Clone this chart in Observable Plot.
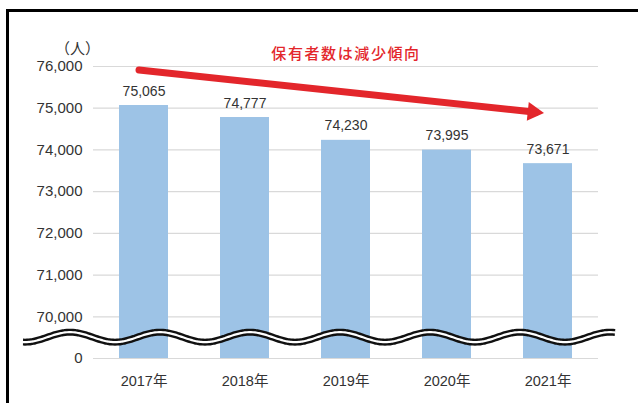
<!DOCTYPE html>
<html>
<head>
<meta charset="utf-8">
<script src="https://cdn.jsdelivr.net/npm/d3@7"></script>
<script src="https://cdn.jsdelivr.net/npm/@observablehq/plot@0.6"></script>
<style>
  html, body { margin: 0; padding: 0; background: #fff; }
  #wrap { position: relative; width: 638px; height: 403px; overflow: hidden; }
  #frame { position: absolute; left: 6px; top: 9px; width: 700px; height: 500px;
           border-top: 3px solid #000; border-left: 3px solid #000; pointer-events: none; }
  g[fill="#e3262b"] text { letter-spacing: 1.6px; }
</style>
</head>
<body>
<div id="wrap"><div id="frame"></div></div>
<script>
// ---- data ----
const years = ["2017年", "2018年", "2019年", "2020年", "2021年"];
const holders = [75065, 74777, 74230, 73995, 73671];
const tickValues = [69000, 70000, 71000, 72000, 73000, 74000, 75000, 76000];
const tickLabels = ["0", "70,000", "71,000", "72,000", "73,000", "74,000", "75,000", "76,000"];
const breakBase = 69000;           // where "0" sits below the axis break
const breakMid = 69500;            // centre of the wavy break symbol
const unitLabel = ["（人）"];
const trendTitle = ["保有者数は減少傾向"];
const trendFrom = {year: "2017年", value: 75904};
const trendTo = {year: "2021年", value: 74873};

const data = years.map((year, i) => ({year, value: holders[i]}));
const fmt = d3.format(",");
const RED = "#e3262b";

function wave(index, scales, values, dims) {
  const yc = scales.y(breakMid);
  const x0 = dims.marginLeft - 70, x1 = dims.width - dims.marginRight + 17;
  const pts = [];
  for (let x = x0; x <= x1; x += 2) pts.push([x, yc - 5 * Math.cos(2 * Math.PI * (x - 70) / 90)]);
  const line = d3.line().curve(d3.curveBasis);
  const g = d3.create("svg:g");
  g.append("path").attr("d", line(pts)).attr("fill", "none").attr("stroke", "#111").attr("stroke-width", 7);
  g.append("path").attr("d", line(pts)).attr("fill", "none").attr("stroke", "#fff").attr("stroke-width", 2.2);
  return g.node();
}

const chart = Plot.plot({
  width: 638,
  height: 403,
  marginLeft: 93,
  marginRight: 40,
  marginTop: 66,
  marginBottom: 45,
  style: {
    fontFamily: "'Liberation Sans', 'Noto Sans CJK JP', sans-serif",
    fontSize: "14px",
    color: "#333",
    background: "transparent",
    overflow: "visible"
  },
  x: {type: "band", domain: years, paddingInner: 0.51, paddingOuter: 0.25, label: null},
  y: {domain: [breakBase, 76000], label: null},
  marks: [
    Plot.gridY(tickValues, {stroke: "#d9d9d9", strokeOpacity: 1, strokeWidth: 1.2}),
    Plot.barY(data, {x: "year", y1: breakBase, y2: "value", fill: "#9dc3e6"}),
    Plot.text(data, {x: "year", y: "value", text: d => fmt(d.value), lineAnchor: "bottom", dy: -10, fontSize: 14}),
    Plot.axisY({ticks: tickValues, tickFormat: (d) => tickLabels[tickValues.indexOf(d)], tickSize: 0, tickPadding: 11,
      fontSize: 15, label: null}),
    Plot.axisX({tickSize: 0, tickPadding: 17, fontSize: 14.5, label: null}),
    wave,
    Plot.text(unitLabel, {frameAnchor: "top-left", dx: -16, dy: -23, textAnchor: "middle", fontSize: 15,
      fontFamily: "'Noto Sans CJK JP', sans-serif"}),
    Plot.text(trendTitle, {x: () => "2019年", y: () => 76000, dy: -12, fill: RED, fontSize: 15, fontWeight: 500,
      fontFamily: "'Noto Sans CJK JP', sans-serif"}),
    Plot.arrow([0], {x1: () => trendFrom.year, y1: () => trendFrom.value, x2: () => trendTo.year, y2: () => trendTo.value,
      stroke: RED, strokeWidth: 7, headLength: 0, insetStart: -5, insetEnd: 12}),
    Plot.dot([0], {x: () => trendTo.year, y: () => trendTo.value, symbol: "triangle2", r: 9, rotate: 96,
      fill: RED, stroke: "none", dx: -14.8, dy: -1.6})
  ]
});
const wrap = document.getElementById("wrap");
wrap.insertBefore(chart, wrap.firstChild);
chart.style.position = "absolute";
chart.style.left = "0";
chart.style.top = "0";
</script>
</body>
</html>
